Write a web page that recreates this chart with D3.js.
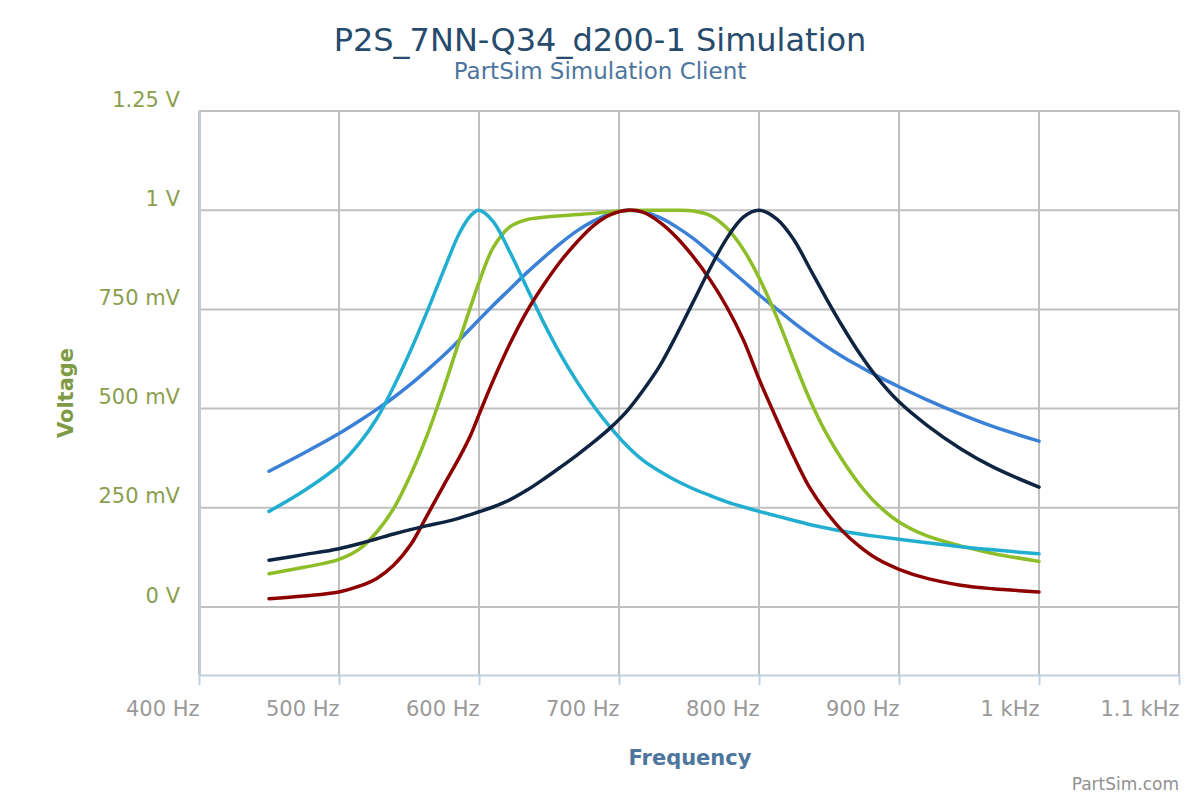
<!DOCTYPE html>
<html>
<head>
<meta charset="utf-8">
<script src="https://cdn.jsdelivr.net/npm/d3@7"></script>
<style>
  body { margin: 0; background: #fff; }
  svg { display: block; font-family: "DejaVu Sans", Verdana, sans-serif; }
</style>
</head>
<body>
<svg id="chart" width="1200" height="800"></svg>
<script>
// frequencies (Hz) shared by all the traces
const freqs = [450,475,500,515,527,539,551,563,575,586,594,600,610,622,634,646,658,670,682,694,
  706,717,729,741,753,765,777,789,800,813,825,836,848,860,872,884,900,920,944,967,1000];

// voltages (V)
const blueV = [0.342,0.388,0.437,0.470,0.498,0.528,0.561,0.597,0.635,0.673,0.702,0.724,0.760,0.801,0.842,0.880,0.916,0.948,0.973,0.991,
  1.000,0.996,0.982,0.958,0.929,0.894,0.857,0.821,0.787,0.750,0.716,0.687,0.657,0.630,0.606,0.583,0.555,0.522,0.486,0.455,0.418];
const greenV = [0.084,0.100,0.120,0.147,0.189,0.248,0.332,0.433,0.553,0.672,0.757,0.818,0.905,0.958,0.976,0.982,0.986,0.989,0.992,0.996,
  0.999,1.000,1.000,1.000,0.998,0.987,0.955,0.900,0.830,0.728,0.620,0.525,0.438,0.368,0.308,0.260,0.214,0.179,0.154,0.135,0.115];
const cyanV = [0.241,0.293,0.357,0.415,0.475,0.555,0.645,0.745,0.850,0.942,0.986,1.000,0.972,0.895,0.806,0.718,0.638,0.568,0.506,0.452,
  0.405,0.370,0.342,0.318,0.298,0.281,0.265,0.252,0.241,0.229,0.218,0.208,0.199,0.191,0.184,0.178,0.171,0.162,0.152,0.144,0.134];
const redV = [0.021,0.028,0.038,0.053,0.072,0.105,0.156,0.231,0.308,0.377,0.433,0.485,0.570,0.663,0.744,0.811,0.870,0.920,0.962,0.989,
  1.000,0.995,0.970,0.932,0.883,0.825,0.756,0.672,0.575,0.470,0.378,0.302,0.240,0.190,0.152,0.122,0.095,0.072,0.055,0.046,0.038];
const navyV = [0.118,0.132,0.147,0.160,0.172,0.184,0.195,0.205,0.214,0.224,0.233,0.240,0.252,0.270,0.294,0.322,0.352,0.383,0.416,0.452,
  0.495,0.545,0.607,0.685,0.769,0.853,0.929,0.983,1.000,0.977,0.925,0.855,0.778,0.705,0.638,0.580,0.517,0.458,0.399,0.353,0.302];

const xTicks = [400,500,600,700,800,900,1000,1100];
const yTicks = [0,0.25,0.5,0.75,1,1.25];

const series = [
  {name:'blue', color:'#3a80d6', values:blueV},
  {name:'green', color:'#8dbd27', values:greenV},
  {name:'cyan', color:'#21aed0', values:cyanV},
  {name:'red', color:'#8e0000', values:redV},
  {name:'navy', color:'#0f2440', values:navyV}
];

const svg = d3.select('#chart');
const plotL = 199, plotR = 1179, plotT = 111, plotB = 675;

let x = d3.scaleLinear().domain([400,1100]).range([plotL,plotR]);
let y = d3.scaleLinear().domain([0,1.25]).range([607,plotT]);

const fmtX = f => f >= 1000 ? (f/1000) + ' kHz' : f + ' Hz';
const fmtY = v => (v === 0 || v >= 1) ? v + ' V' : Math.round(v*1000) + ' mV';

// grid
svg.append('g').selectAll('line').data(yTicks).join('line')
  .attr('x1',plotL).attr('x2',plotR)
  .attr('y1',d=>y(d)).attr('y2',d=>y(d))
  .attr('stroke','#c0c0c0').attr('stroke-width',2);
svg.append('g').selectAll('line').data(xTicks).join('line')
  .attr('x1',d=>x(d)).attr('x2',d=>x(d))
  .attr('y1',plotT).attr('y2',plotB)
  .attr('stroke','#c0c0c0').attr('stroke-width',2);

// x axis
let xAxis = svg.append('g')
  .attr('transform','translate(0,' + plotB + ')')
  .call(d3.axisBottom(x).tickValues(xTicks).tickFormat(fmtX).tickSize(10).tickSizeOuter(0));
xAxis.select('.domain').attr('stroke','#c0d0e0').attr('stroke-width',2);
xAxis.selectAll('.tick line').attr('stroke','#c0d0e0').attr('stroke-width',2);
xAxis.selectAll('.tick text')
  .attr('text-anchor','end').attr('dy',null).attr('y',41)
  .attr('fill','#999').style('font-size','21px').style('font-family','"DejaVu Sans", sans-serif');

// left axis line
svg.append('line').attr('x1',plotL+1).attr('x2',plotL+1).attr('y1',plotT).attr('y2',plotB)
  .attr('stroke','#c4ccd8').attr('stroke-width',2);

// y axis labels
let yAxis = svg.append('g')
  .attr('transform','translate(180,0)')
  .call(d3.axisLeft(y).tickValues(yTicks).tickFormat(fmtY).tickSize(0));
yAxis.select('.domain').remove();
yAxis.selectAll('.tick text')
  .attr('x',0).attr('dy',null).attr('y',-5)
  .attr('fill','#8a9e4e').style('font-size','21px').style('font-family','"DejaVu Sans", sans-serif');

// traces
let line = d3.line()
  .x((d,i)=>x(freqs[i]))
  .y(d=>y(d))
  .curve(d3.curveCatmullRom.alpha(0.5));

svg.append('g').selectAll('path').data(series).join('path')
  .attr('d',d=>line(d.values))
  .attr('fill','none')
  .attr('stroke',d=>d.color)
  .attr('stroke-width',3.5)
  .attr('stroke-linejoin','round')
  .attr('stroke-linecap','round');

// titles
svg.append('text').attr('x',600).attr('y',51).attr('text-anchor','middle')
  .attr('fill','#274b6d').style('font-size','32px').text('P2S_7NN-Q34_d200-1 Simulation');
svg.append('text').attr('x',600).attr('y',79).attr('text-anchor','middle')
  .attr('fill','#4d759e').style('font-size','23px').text('PartSim Simulation Client');

svg.append('text').attr('x',690).attr('y',765).attr('text-anchor','middle')
  .attr('fill','#4d759e').style('font-size','21px').style('font-weight','bold').text('Frequency');
svg.append('text').attr('transform','translate(73,393) rotate(-90)').attr('text-anchor','middle')
  .attr('fill','#7f9a45').style('font-size','21px').style('font-weight','bold').text('Voltage');

svg.append('text').attr('x',1179).attr('y',790).attr('text-anchor','end')
  .attr('fill','#909090').style('font-size','17px').text('PartSim.com');
</script>
</body>
</html>
